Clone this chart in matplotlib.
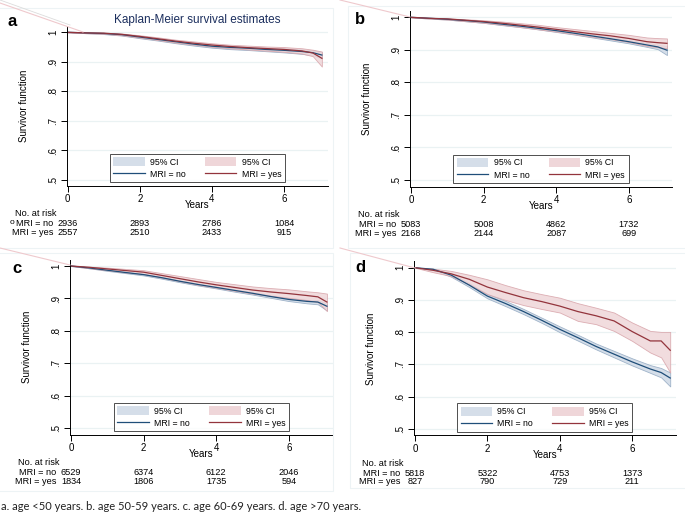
import numpy as np
import matplotlib
matplotlib.use('Agg')
import matplotlib.pyplot as plt
from matplotlib.patches import Patch, Rectangle
from matplotlib.lines import Line2D
from matplotlib.transforms import blended_transform_factory

plt.rcParams['font.family'] = ['Liberation Sans', 'DejaVu Sans']

W, H = 685, 517

# ─── Data ──────────────────────────────────────────────────────────────────────
years = [0, 0.5, 1, 1.5, 2, 2.5, 3, 3.5, 4, 4.5, 5, 5.5, 6, 6.5, 6.8, 7.05]
risk_times = [0, 2, 4, 6]

# panel a: age <50
a_no     = [1.0, 0.998, 0.996, 0.992, 0.984, 0.976, 0.968, 0.960, 0.953, 0.949, 0.946, 0.942, 0.939, 0.935, 0.931, 0.923]
a_no_lo  = [1.0, 0.997, 0.994, 0.989, 0.980, 0.972, 0.963, 0.955, 0.948, 0.943, 0.940, 0.936, 0.932, 0.927, 0.922, 0.912]
a_no_hi  = [1.0, 0.999, 0.998, 0.995, 0.988, 0.980, 0.972, 0.965, 0.958, 0.954, 0.952, 0.948, 0.946, 0.942, 0.939, 0.933]
a_yes    = [1.0, 0.998, 0.997, 0.993, 0.986, 0.978, 0.970, 0.963, 0.957, 0.952, 0.948, 0.945, 0.942, 0.937, 0.930, 0.912]
a_yes_lo = [1.0, 0.997, 0.995, 0.990, 0.982, 0.974, 0.965, 0.958, 0.951, 0.946, 0.942, 0.938, 0.934, 0.928, 0.919, 0.884]
a_yes_hi = [1.0, 0.999, 0.999, 0.996, 0.990, 0.983, 0.975, 0.969, 0.963, 0.958, 0.955, 0.952, 0.950, 0.946, 0.941, 0.935]
a_risk_no  = [2936, 2893, 2786, 1084]
a_risk_yes = [2557, 2510, 2433, 915]

# panel b: age 50-59
b_no     = [1.0, 0.997, 0.994, 0.990, 0.9855, 0.979, 0.973, 0.966, 0.959, 0.951, 0.9425, 0.934, 0.925, 0.915, 0.909, 0.899]
b_no_lo  = [1.0, 0.996, 0.993, 0.988, 0.983, 0.976, 0.970, 0.963, 0.955, 0.947, 0.938, 0.929, 0.920, 0.909, 0.902, 0.884]
b_no_hi  = [1.0, 0.998, 0.995, 0.992, 0.988, 0.982, 0.976, 0.969, 0.963, 0.955, 0.947, 0.939, 0.930, 0.921, 0.916, 0.911]
b_yes    = [1.0, 0.997, 0.995, 0.991, 0.987, 0.982, 0.976, 0.970, 0.963, 0.956, 0.949, 0.943, 0.935, 0.925, 0.922, 0.920]
b_yes_lo = [1.0, 0.996, 0.993, 0.988, 0.983, 0.977, 0.970, 0.963, 0.956, 0.948, 0.940, 0.933, 0.924, 0.912, 0.908, 0.905]
b_yes_hi = [1.0, 0.998, 0.997, 0.994, 0.991, 0.987, 0.982, 0.977, 0.970, 0.964, 0.958, 0.952, 0.946, 0.938, 0.936, 0.935]
b_risk_no  = [5083, 5008, 4862, 1732]
b_risk_yes = [2168, 2144, 2087, 699]

# panel c: age 60-69
c_no     = [1.0, 0.994, 0.987, 0.980, 0.9735, 0.964, 0.953, 0.943, 0.934, 0.925, 0.916, 0.906, 0.897, 0.891, 0.889, 0.876]
c_no_lo  = [1.0, 0.993, 0.985, 0.978, 0.971, 0.961, 0.950, 0.940, 0.931, 0.921, 0.912, 0.902, 0.892, 0.885, 0.882, 0.863]
c_no_hi  = [1.0, 0.995, 0.989, 0.982, 0.976, 0.967, 0.956, 0.946, 0.937, 0.928, 0.920, 0.910, 0.901, 0.896, 0.895, 0.885]
c_yes    = [1.0, 0.996, 0.991, 0.986, 0.981, 0.971, 0.961, 0.951, 0.942, 0.934, 0.926, 0.920, 0.915, 0.909, 0.905, 0.889]
c_yes_lo = [1.0, 0.993, 0.987, 0.980, 0.975, 0.964, 0.953, 0.942, 0.933, 0.924, 0.915, 0.908, 0.902, 0.895, 0.889, 0.861]
c_yes_hi = [1.0, 0.998, 0.995, 0.991, 0.987, 0.978, 0.969, 0.960, 0.951, 0.944, 0.937, 0.932, 0.928, 0.922, 0.919, 0.915]
c_risk_no  = [6529, 6374, 6122, 2046]
c_risk_yes = [1834, 1806, 1735, 594]

# panel d: age >70
d_no     = [1.0, 0.995, 0.977, 0.946, 0.912, 0.889, 0.864, 0.837, 0.809, 0.783, 0.756, 0.732, 0.708, 0.686, 0.675, 0.658]
d_no_lo  = [1.0, 0.993, 0.972, 0.940, 0.905, 0.881, 0.856, 0.829, 0.800, 0.774, 0.747, 0.722, 0.697, 0.674, 0.660, 0.632]
d_no_hi  = [1.0, 0.997, 0.982, 0.952, 0.919, 0.897, 0.872, 0.845, 0.818, 0.792, 0.765, 0.742, 0.719, 0.698, 0.689, 0.675]
d_yes    = [1.0, 0.992, 0.981, 0.964, 0.940, 0.923, 0.907, 0.895, 0.881, 0.864, 0.851, 0.835, 0.802, 0.773, 0.773, 0.744]
d_yes_lo = [1.0, 0.986, 0.974, 0.948, 0.918, 0.900, 0.884, 0.872, 0.861, 0.835, 0.825, 0.804, 0.773, 0.737, 0.722, 0.675]
d_yes_hi = [1.0, 0.997, 0.990, 0.978, 0.964, 0.946, 0.930, 0.918, 0.907, 0.890, 0.876, 0.861, 0.830, 0.804, 0.801, 0.801]
d_risk_no  = [5818, 5322, 4753, 1373]
d_risk_yes = [827, 790, 729, 211]

caption = "a. age <50 years. b. age 50-59 years. c. age 60-69 years. d. age >70 years."

BLUE, RED = '#1f4e79', '#93343c'
BLUE_CI, RED_CI = '#d5dee9', '#efd6d9'
BLUE_EDGE, RED_EDGE = '#9fb3c9', '#d7a2a8'


def fx(px):
    return px / W


def fy(py):
    return 1 - py / H


def km_panel(fig, geo, letter, letter_pos, no, no_lo, no_hi, yes, yes_lo, yes_hi,
             risk_no, risk_yes, title=None):
    # geo: pixel of t=0, px per year, px of y=1, px of y=.5, right edge px
    x0, ppy, y1, y05, xr = geo
    ppu = (y05 - y1) / 0.5
    ylo, yhi = 0.48, 1.02
    xlo, xhi = -0.03, (xr - x0) / ppy
    left, right = x0 + xlo * ppy, xr
    top, bot = y1 - (yhi - 1) * ppu, y05 + (0.5 - ylo) * ppu
    ax = fig.add_axes([fx(left), fy(bot), fx(right - left), (bot - top) / H])

    ax.fill_between(years, no_lo, no_hi, color=BLUE_CI, edgecolor=BLUE_EDGE, lw=0.6)
    ax.fill_between(years, yes_lo, yes_hi, color=RED_CI, edgecolor=RED_EDGE, lw=0.6, alpha=0.85)
    ax.plot(years, no, color=BLUE, lw=0.9)
    ax.plot(years, yes, color=RED, lw=0.9)

    ax.set_xlim(xlo, xhi)
    ax.set_ylim(ylo, yhi)
    ax.set_yticks([0.5, 0.6, 0.7, 0.8, 0.9, 1.0])
    ax.set_yticklabels(['.5', '.6', '.7', '.8', '.9', '1'], rotation=90, va='center')
    ax.set_xticks([0, 2, 4, 6])
    ax.tick_params(labelsize=7, length=4, width=0.7, pad=2)
    ax.grid(axis='y', color='#eaf2f3', lw=0.9)
    ax.set_axisbelow(True)
    for s in ['top', 'right']:
        ax.spines[s].set_visible(False)
    for s in ['left', 'bottom']:
        ax.spines[s].set_linewidth(0.7)
    ax.set_ylabel('Survivor function', fontsize=7, labelpad=14)
    ax.set_xlabel('Years', fontsize=7, labelpad=-3)

    handles = [Patch(facecolor=BLUE_CI, edgecolor='none'),
               Line2D([], [], color=BLUE, lw=0.9),
               Patch(facecolor=RED_CI, edgecolor='none'),
               Line2D([], [], color=RED, lw=0.9)]
    labels = ['95% CI', 'MRI = no', '95% CI', 'MRI = yes']
    leg = ax.legend(handles, labels, ncol=2, loc='lower center', fontsize=6.3,
                    frameon=True, fancybox=False, handlelength=3.6,
                    handleheight=1.2, labelspacing=0.3, columnspacing=2.2,
                    borderpad=0.4, borderaxespad=0.4, handletextpad=0.6)
    leg.get_frame().set_edgecolor('#222222')
    leg.get_frame().set_linewidth(0.7)

    # number at risk table
    tr = blended_transform_factory(ax.transData, fig.transFigure)
    fs = 6.6
    fig.text(fx(x0 - 52.5), fy(bot + 28), 'No. at risk', fontsize=fs, va='center')
    fig.text(fx(x0 - 14.5), fy(bot + 38), 'MRI = no', fontsize=fs, va='center', ha='right')
    fig.text(fx(x0 - 14.5), fy(bot + 46.5), 'MRI = yes', fontsize=fs, va='center', ha='right')
    for t, n1, n2 in zip(risk_times, risk_no, risk_yes):
        ax.text(t, fy(bot + 38), str(n1), transform=tr, fontsize=fs, ha='center', va='center')
        ax.text(t, fy(bot + 46.5), str(n2), transform=tr, fontsize=fs, ha='center', va='center')

    fig.text(fx(letter_pos[0]), fy(letter_pos[1]), letter,
             fontsize=12, fontweight='bold', ha='left', va='center')
    if title:
        fig.text(fx((left + right) / 2), fy(19.5), title, fontsize=8.5,
                 color='#1c2f5e', ha='center', va='center')
    return ax


fig = plt.figure(figsize=(W / 100, H / 100), dpi=100)
fig.patch.set_facecolor('white')

# faint panel frames and stray corner strokes from the source image
for (x, y, w, h) in [(-2, 8, 335, 240), (348, 6, 340, 242), (-2, 253, 335, 238), (350, 253, 338, 235)]:
    fig.add_artist(Rectangle((fx(x), fy(y + h)), fx(w), h / H, transform=fig.transFigure,
                             fill=False, edgecolor='#edf3f5', lw=0.8))
for (xa, ya, xb, yb) in [(0, 3, 83, 32), (340, 0, 410, 17), (0, 248, 70, 265), (340, 248, 415, 268)]:
    fig.add_artist(Line2D([fx(xa), fx(xb)], [fy(ya), fy(yb)], transform=fig.transFigure,
                          color='#efc9cd', lw=0.8))
fig.add_artist(Line2D([fx(0), fx(70)], [fy(0), fy(25)], transform=fig.transFigure,
                      color='#dcdcdc', lw=0.6))

km_panel(fig, (67.7, 36.05, 32.3, 180.0, 328), 'a', (8, 21), a_no, a_no_lo, a_no_hi,
         a_yes, a_yes_lo, a_yes_hi, a_risk_no, a_risk_yes,
         title='Kaplan-Meier survival estimates')
km_panel(fig, (411.0, 36.3, 17.3, 180.0, 672), 'b', (355, 19), b_no, b_no_lo, b_no_hi,
         b_yes, b_yes_lo, b_yes_hi, b_risk_no, b_risk_yes)
km_panel(fig, (71.0, 36.3, 266.0, 428.3, 333), 'c', (12, 268.5), c_no, c_no_lo, c_no_hi,
         c_yes, c_yes_lo, c_yes_hi, c_risk_no, c_risk_yes)
km_panel(fig, (415.0, 36.2, 267.7, 429.0, 675.7), 'd', (355, 267.5), d_no, d_no_lo, d_no_hi,
         d_yes, d_yes_lo, d_yes_hi, d_risk_no, d_risk_yes)

fig.text(fx(1), fy(506.5), caption, fontsize=8, family=['Lato', 'DejaVu Sans'],
         ha='left', va='center', color='#222222')
fig.text(fx(12), fy(223), 'o', fontsize=6, ha='center', va='center')

plt.savefig('out.png', dpi=100)
